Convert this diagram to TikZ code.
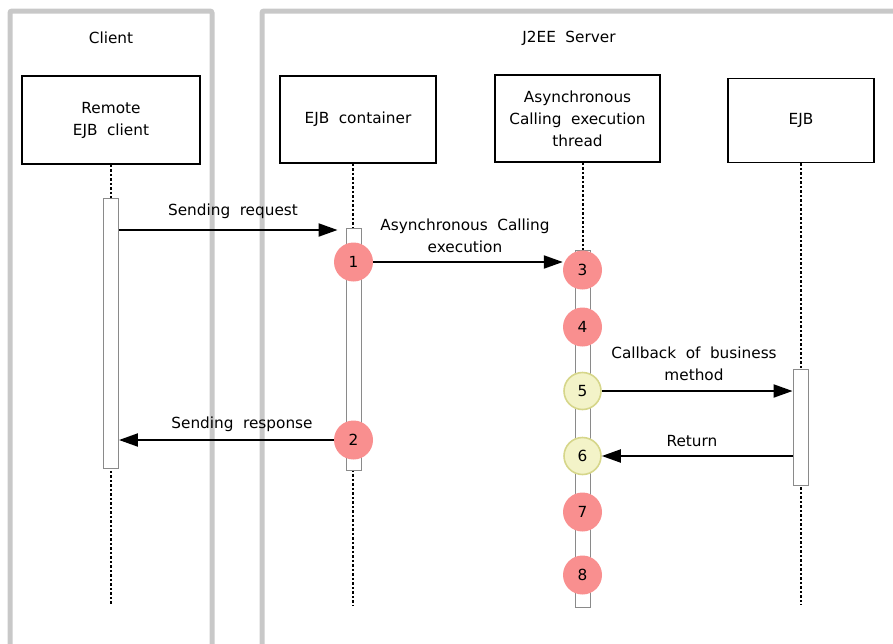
\documentclass[tikz,border=0pt]{standalone}
\usepackage{fontspec}
\setmainfont{DejaVu Sans}
\usetikzlibrary{arrows.meta,calc}
\definecolor{panelgray}{HTML}{C8C8C8}
\definecolor{pinkc}{HTML}{F98F8F}
\definecolor{yellowf}{HTML}{F3F3C8}
\definecolor{yellowd}{HTML}{D6D68A}
\definecolor{bargray}{HTML}{8A8A8A}
\newcommand\diafont{\fontsize{15.3}{22}\selectfont\setlength{\spaceskip}{9.5pt plus 2pt}}
\tikzset{
  txt/.style={font=\diafont, align=center, inner sep=0pt},
  panel/.style={draw=panelgray, line width=5pt, rounded corners=2pt},
  objbox/.style={draw=black, line width=1.6pt, fill=white, minimum width=#1, inner sep=0pt, txt},
  life/.style={black, line width=2.2pt, dash pattern=on 2.5pt off 2pt},
  actbar/.style={draw=bargray, line width=0.9pt, fill=white, minimum width=15pt, inner sep=0pt},
  pinkcirc/.style={circle, fill=pinkc, minimum size=39pt, inner sep=0pt, txt},
  yelcirc/.style={circle, fill=yellowf, draw=yellowd, line width=1.6pt, minimum size=37pt, inner sep=0pt, txt},
  msg/.style={line width=2pt, -{Triangle[length=19pt,width=13pt]}}
}
\begin{document}
\begin{tikzpicture}[x=1pt,y=-1pt]
\useasboundingbox (0,0) rectangle (893,643);
% panels
\draw[panel] (10,660) -- (10,11) -- (212,11) -- (212,660);
\draw[panel] (262,660) -- (262,11) -- (910,11);
\node[txt] (lclient) at (111,38) {Client};
\node[txt] (lserver) at (569,38) {J2EE Server};
% object boxes
\node[objbox=178pt, minimum height=88pt] (rc) at (111,120) {Remote\\EJB client};
\node[objbox=156pt, minimum height=87pt] (ct) at (358,119.5) {EJB container};
\node[objbox=165pt, minimum height=87pt] (th) at (577.5,118.5) {Asynchronous\\Calling execution\\thread};
\node[objbox=146pt, minimum height=84pt] (ejb) at (801,120.5) {EJB};
% lifelines
\coordinate (rcend) at (111,605);
\coordinate (ctend) at (353,605);
\coordinate (thend) at (583,605);
\coordinate (ejbend) at (801,605);
\draw[life] (rc.south) -- (rcend);
\draw[life] (ct.south -| ctend) -- (ctend);
\draw[life] (th.south -| thend) -- (thend);
\draw[life] (ejb.south) -- (ejbend);
% activation bars
\node[actbar, minimum height=270pt] (rcbar) at (111,333) {};
\node[actbar, minimum height=242pt] (ctbar) at (353.5,349) {};
\node[actbar, minimum height=357pt] (thbar) at (582.5,428.5) {};
\node[actbar, minimum height=116pt] (ejbbar) at (800.5,427) {};
% circles
\node[pinkcirc] (c1) at (353.5,262) {1};
\node[pinkcirc] (c2) at (353.5,440) {2};
\node[pinkcirc] (c3) at (582.5,270) {3};
\node[pinkcirc] (c4) at (582.5,327) {4};
\node[yelcirc] (c5) at (582.5,391) {5};
\node[yelcirc] (c6) at (582.5,456) {6};
\node[pinkcirc] (c7) at (582.5,512) {7};
\node[pinkcirc] (c8) at (582.5,575) {8};
% messages
\coordinate (reqy) at (0,230);
\draw[msg] (rcbar.east |- reqy) -- ([xshift=-8pt]ctbar.west |- reqy);
\node[txt] (lreq) at (233,211) {Sending request};
\draw[msg] (c1.east) -- (c1.east -| c3.west);
\node[txt] (lasync) at (465,236) {Asynchronous Calling\\execution};
\draw[msg] (c5.east) -- (c5.east -| ejbbar.west);
\node[txt] (lcb) at (694,364) {Callback of business\\method};
\draw[msg] (ejbbar.west |- c6.east) -- (c6.east);
\node[txt] (lret) at (692,441) {Return};
\draw[msg] (c2.west) -- (c2.west -| rcbar.east);
\node[txt] (lresp) at (242,424) {Sending response};
\end{tikzpicture}
\end{document}
